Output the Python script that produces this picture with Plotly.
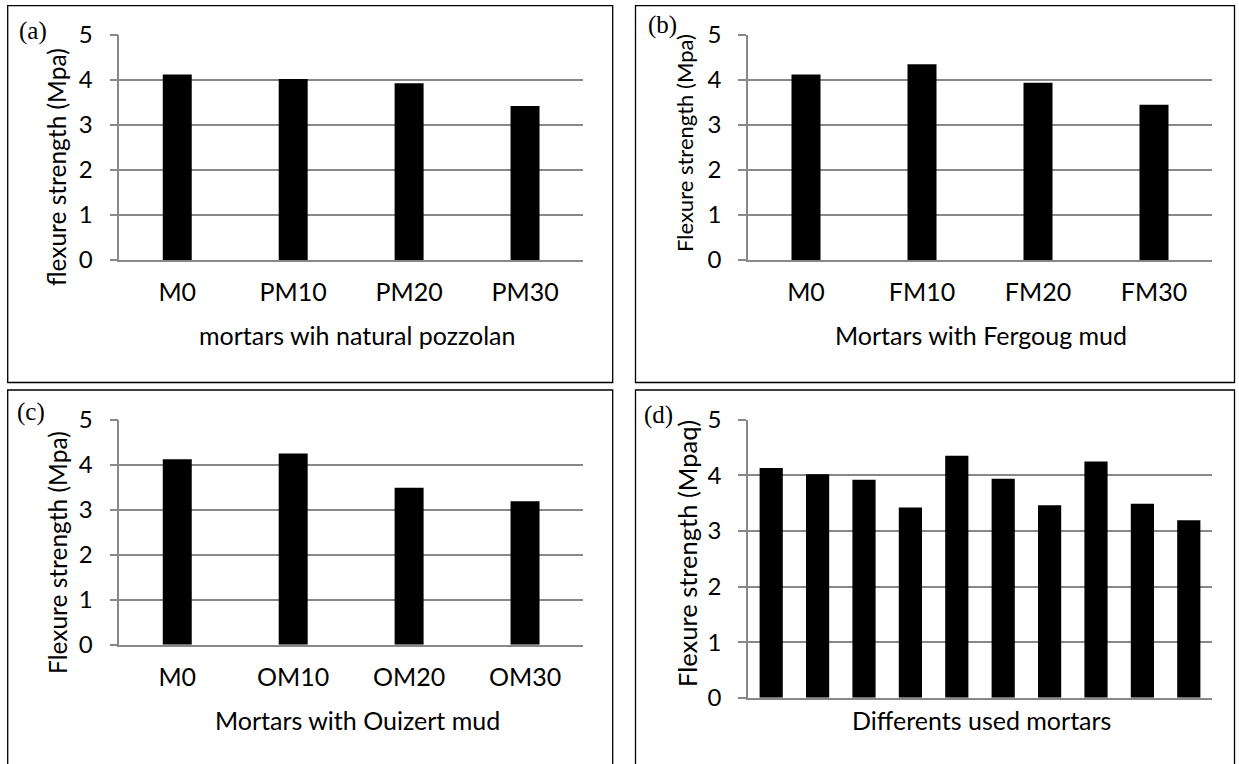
import plotly.graph_objects as go

W, H = 1239, 764

cats_a = ["M0", "PM10", "PM20", "PM30"]
vals_a = [4.12, 4.02, 3.93, 3.42]
cats_b = ["M0", "FM10", "FM20", "FM30"]
vals_b = [4.12, 4.35, 3.94, 3.45]
cats_c = ["M0", "OM10", "OM20", "OM30"]
vals_c = [4.12, 4.25, 3.49, 3.19]
cats_d = ["M0", "PM10", "PM20", "PM30", "FM10", "FM20", "FM30", "OM10", "OM20", "OM30"]
vals_d = [4.13, 4.02, 3.92, 3.42, 4.35, 3.94, 3.46, 4.25, 3.49, 3.19]

y_ticks = [0, 1, 2, 3, 4, 5]
x_titles = ["mortars wih natural pozzolan", "Mortars with Fergoug mud",
            "Mortars with Ouizert mud", "Differents used mortars"]
y_titles = ["flexure strength (Mpa)", "Flexure strength (Mpa)",
            "Flexure strength (Mpa)", "Flexure strength (Mpaq)"]
panel_labels = ["(a)", "(b)", "(c)", "(d)"]

FONT = "Lato"
GRID = "#888888"


def px_x(x):
    return x / W


def px_y(y):
    return 1 - y / H


fig = go.Figure()

# plot-area rectangles in pixels (left, right, top, bottom)
areas = [
    (119.3, 583.0, 35.0, 260.0),
    (748.0, 1212.0, 35.0, 260.0),
    (119.3, 583.0, 419.7, 644.7),
    (748.0, 1212.0, 419.7, 697.7),
]
datasets = [(cats_a, vals_a, 0.25), (cats_b, vals_b, 0.25), (cats_c, vals_c, 0.25), (cats_d, vals_d, 0.5)]

for i, ((cats, vals, bw), (l, r, t, b)) in enumerate(zip(datasets, areas)):
    n = "" if i == 0 else str(i + 1)
    fig.add_trace(go.Bar(x=cats, y=vals, width=bw, marker=dict(color="black", line=dict(width=0)),
                         xaxis="x" + n, yaxis="y" + n, showlegend=False, hoverinfo="x+y"))
    fig.layout["xaxis" + n] = dict(
        domain=[px_x(l), px_x(r)], anchor="y" + n, type="category",
        showline=True, linecolor=GRID, linewidth=1.6, showgrid=False, ticks="",
        showticklabels=(i != 3), tickfont=dict(family=FONT, size=25, color="black"),
        ticklabelstandoff=9, fixedrange=True, automargin=False)
    fig.layout["yaxis" + n] = dict(
        domain=[px_y(b), px_y(t)], anchor="x" + n, range=[0, 5], tickvals=y_ticks,
        showline=True, linecolor=GRID, linewidth=1.6, showgrid=True, gridcolor=GRID, gridwidth=1.6,
        zeroline=False, ticks="outside", ticklen=8, tickcolor=GRID, tickwidth=1.6,
        tickfont=dict(family=FONT, size=24, color="black"), ticklabelstandoff=12,
        fixedrange=True, automargin=False)

# panel borders
borders = [
    (7.7, 612.7, 5.7, 382.5),
    (635.5, 1234.5, 5.7, 382.5),
    (7.7, 612.7, 390.0, 775.0),
    (635.5, 1234.5, 390.0, 775.0),
]
for (l, r, t, b) in borders:
    fig.add_shape(type="rect", xref="paper", yref="paper",
                  x0=px_x(l), x1=px_x(r), y0=px_y(b), y1=px_y(t),
                  line=dict(color="black", width=1.3), fillcolor="rgba(0,0,0,0)", layer="above")

ann = []
# panel labels
lab_pos = [(33, 31), (662, 25), (31, 412), (658, 415)]
for txt, (x, y) in zip(panel_labels, lab_pos):
    ann.append(dict(text=txt, x=px_x(x), y=px_y(y), xref="paper", yref="paper", showarrow=False,
                    font=dict(family="Liberation Serif", size=25, color="black"),
                    xanchor="center", yanchor="middle"))
# x titles
xt_pos = [(357, 335), (981, 335), (357, 720), (981, 720)]
for txt, (x, y) in zip(x_titles, xt_pos):
    ann.append(dict(text=txt, x=px_x(x), y=px_y(y), xref="paper", yref="paper", showarrow=False,
                    font=dict(family=FONT, size=25, color="black"),
                    xanchor="center", yanchor="middle"))
# y titles
yt_pos = [(57, 167, 24.5), (685, 143, 22), (57, 553, 24.5), (687, 554, 25.5)]
for txt, (x, y, s) in zip(y_titles, yt_pos):
    ann.append(dict(text=txt, x=px_x(x), y=px_y(y), xref="paper", yref="paper", showarrow=False,
                    textangle=-90, font=dict(family=FONT, size=s, color="black"),
                    xanchor="center", yanchor="middle"))

fig.update_layout(width=W, height=H, margin=dict(l=0, r=0, t=0, b=0, pad=0),
                  paper_bgcolor="white", plot_bgcolor="white", annotations=ann,
                  bargap=0.5)

fig.write_html("out.html", config={"displayModeBar": False},
               post_script="document.body.style.margin='0';document.body.style.padding='0';"
                           "document.documentElement.style.overflow='hidden';")
